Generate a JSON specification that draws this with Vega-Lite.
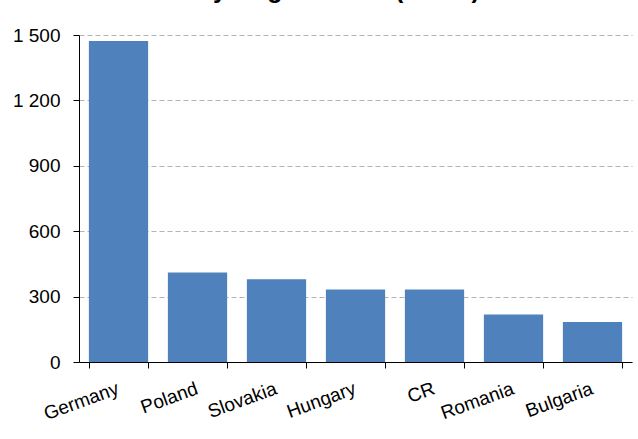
{
  "$schema": "https://vega.github.io/schema/vega-lite/v6.json",
  "width": 553,
  "height": 327,
  "autosize": {"type": "none"},
  "padding": {"left": 79, "top": 35, "right": 6, "bottom": 77},
  "background": "#ffffff",
  "title": {
    "text": "Minimum monthly wage in 2015 (euros)",
    "anchor": "start",
    "frame": "group",
    "dx": -66,
    "dy": -3,
    "offset": 0,
    "baseline": "alphabetic",
    "font": "Liberation Sans",
    "fontSize": 25,
    "fontWeight": "bold",
    "color": "#000000"
  },
  "data": {
    "values": [
      {"country": "Germany", "wage": 1473},
      {"country": "Poland", "wage": 410},
      {"country": "Slovakia", "wage": 380},
      {"country": "Hungary", "wage": 333},
      {"country": "CR", "wage": 332},
      {"country": "Romania", "wage": 218},
      {"country": "Bulgaria", "wage": 184}
    ]
  },
  "mark": {"type": "bar", "color": "#4f81bd"},
  "encoding": {
    "x": {
      "field": "country",
      "type": "nominal",
      "sort": null,
      "scale": {"paddingInner": 0.25, "paddingOuter": 0.125},
      "axis": {
        "title": null,
        "tickBand": "extent",
        "labelAngle": -20,
        "labelAlign": "right",
        "labelBaseline": "top",
        "labelPadding": 11,
        "labelOffset": -4,
        "tickSize": 6,
        "grid": false
      }
    },
    "y": {
      "field": "wage",
      "type": "quantitative",
      "scale": {"domain": [0, 1500], "nice": false},
      "axis": {
        "title": null,
        "values": [0, 300, 600, 900, 1200, 1500],
        "labelExpr": "replace(format(datum.value, ','), ',', ' ')",
        "tickSize": 6,
        "labelPadding": 13,
        "grid": true,
        "gridDash": [5, 3],
        "gridColor": "#b3b3b3",
        "gridWidth": 1
      }
    }
  },
  "config": {
    "view": {"stroke": null},
    "axis": {
      "labelFont": "Liberation Sans",
      "labelFontSize": 19,
      "labelColor": "#000000",
      "domainColor": "#000000",
      "domainWidth": 1,
      "tickColor": "#000000",
      "tickWidth": 1,
      "labelOverlap": false
    }
  }
}
